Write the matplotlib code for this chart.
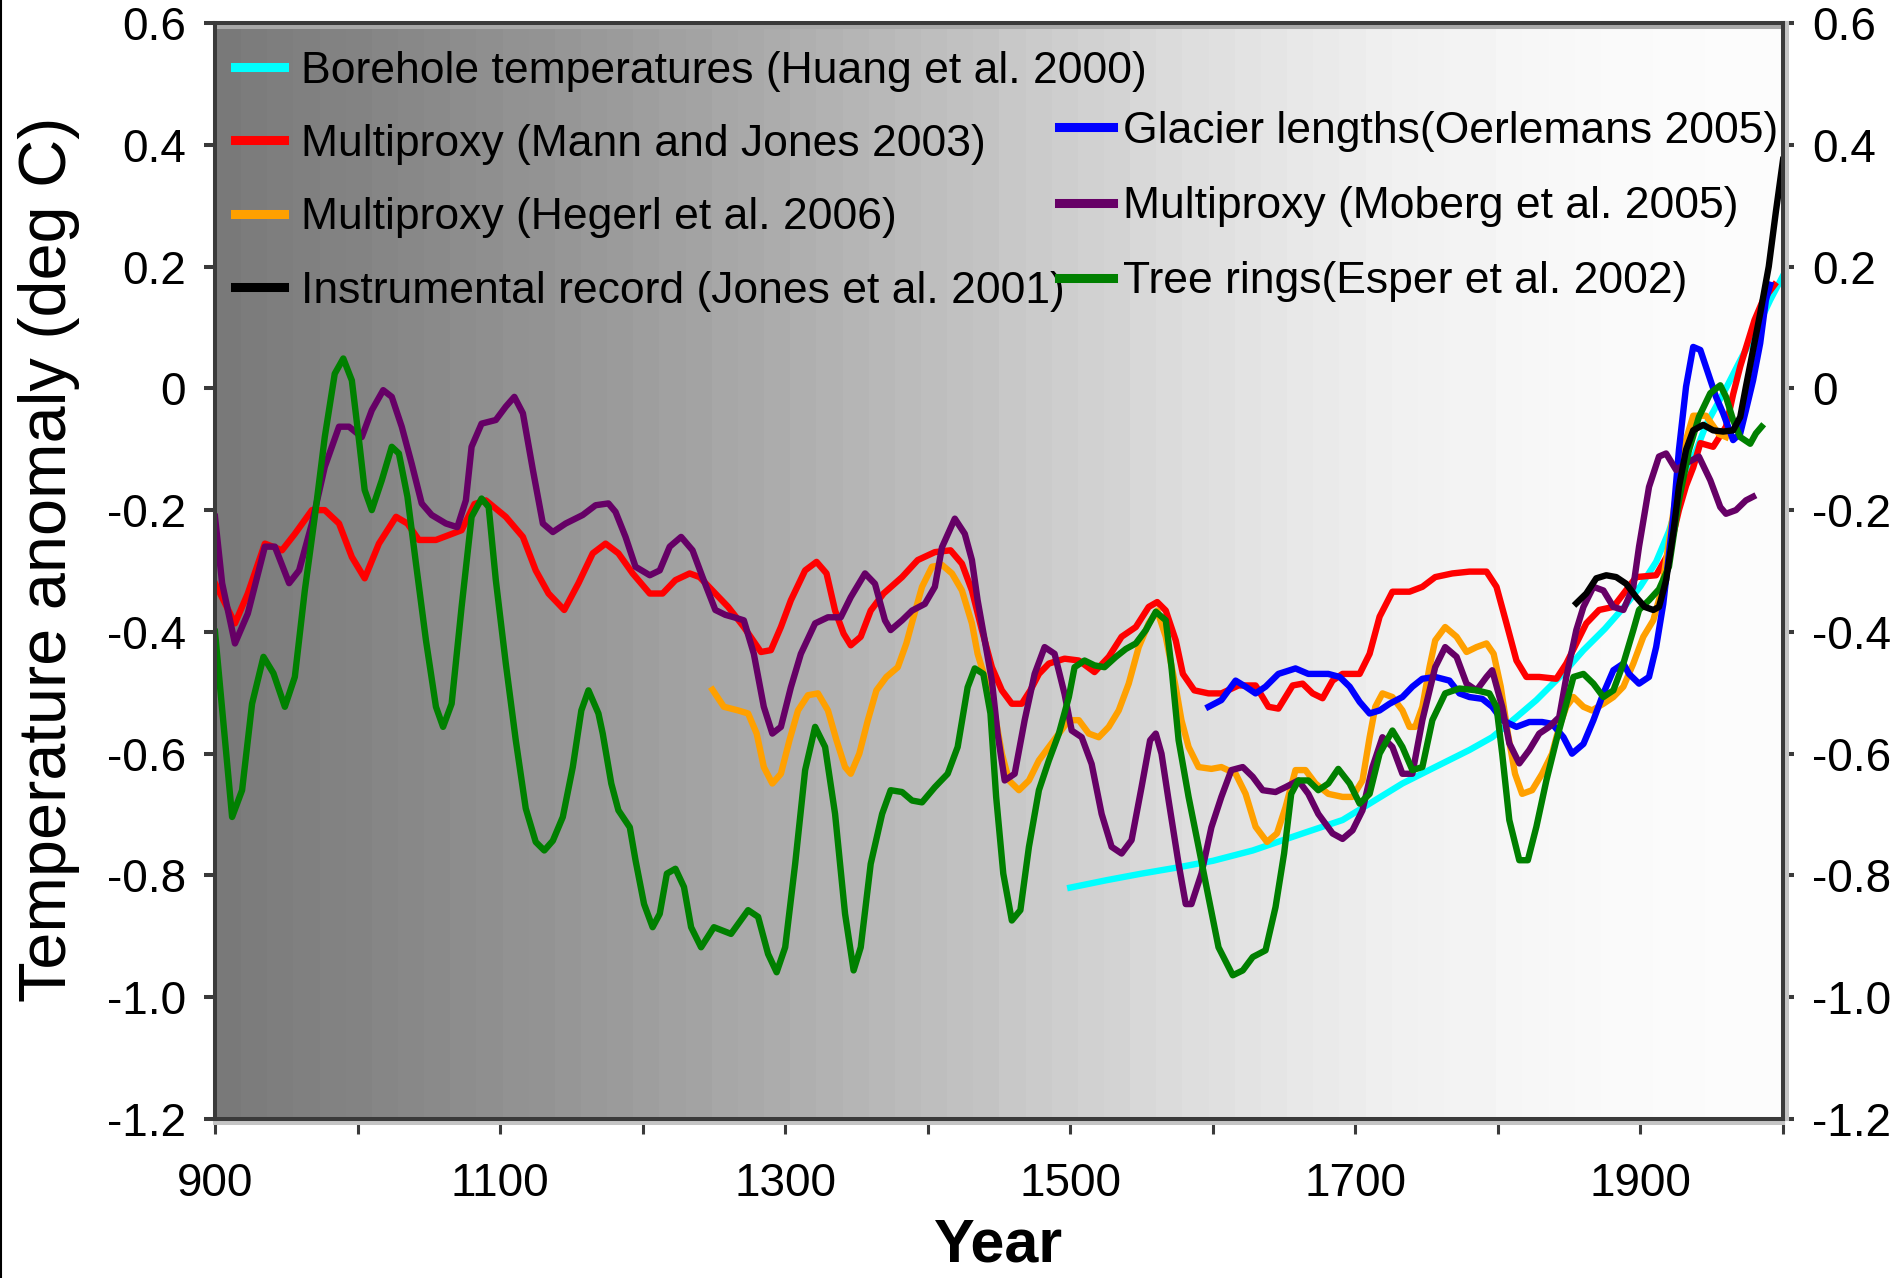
import numpy as np
import matplotlib
matplotlib.use('Agg')
import matplotlib.pyplot as plt
from matplotlib.lines import Line2D
from matplotlib.transforms import offset_copy

plt.rcParams['font.family'] = ['Liberation Sans', 'DejaVu Sans']

# Borehole temperatures (Huang et al. 2000)
borehole_years = [1500, 1525, 1550, 1575, 1600, 1628, 1663, 1691, 1710, 1733, 1756, 1780, 1796, 1813,
                  1827, 1845, 1860, 1875, 1890, 1900, 1911, 1920, 1932, 1946, 1960, 1970, 1980, 1991, 2000]
borehole_vals = [-0.82, -0.808, -0.797, -0.787, -0.776, -0.759, -0.731, -0.709, -0.682, -0.649, -0.622, -0.594,
                 -0.573, -0.54, -0.512, -0.47, -0.43, -0.395, -0.355, -0.325, -0.285, -0.235, -0.145, -0.06,
                 0.0, 0.046, 0.09, 0.145, 0.185]

# Multiproxy (Mann and Jones 2003)
mann_years = [900, 914, 923, 935, 947, 956, 968, 977, 987, 996, 1005, 1015, 1027, 1035, 1043, 1055, 1073, 1082,
              1090, 1104, 1116, 1125, 1134, 1145, 1155, 1165, 1174, 1183, 1193, 1205, 1214, 1223, 1233, 1240,
              1251, 1260, 1271, 1283, 1290, 1297, 1304, 1314, 1322, 1329, 1335, 1341, 1346, 1353, 1360, 1369,
              1382, 1393, 1405, 1416, 1424, 1431, 1438, 1445, 1452, 1459, 1466, 1472, 1478, 1485, 1496, 1506,
              1517, 1527, 1536, 1546, 1555, 1561, 1567, 1574, 1579, 1587, 1597, 1606, 1618, 1630, 1639, 1646,
              1656, 1663, 1670, 1677, 1684, 1691, 1703, 1710, 1717, 1726, 1738, 1747, 1756, 1768, 1780, 1792,
              1799, 1806, 1813, 1820, 1829, 1841, 1848, 1855, 1862, 1871, 1881, 1897, 1911, 1920, 1927, 1932,
              1937, 1942, 1951, 1960, 1965, 1970, 1975, 1980, 1986, 1994]
mann_vals = [-0.32, -0.386, -0.337, -0.255, -0.266, -0.239, -0.2, -0.2, -0.222, -0.277, -0.312, -0.255, -0.211,
             -0.222, -0.249, -0.249, -0.233, -0.19, -0.184, -0.211, -0.244, -0.299, -0.337, -0.364, -0.32,
             -0.271, -0.255, -0.271, -0.304, -0.337, -0.337, -0.315, -0.304, -0.31, -0.337, -0.359, -0.392,
             -0.433, -0.43, -0.392, -0.348, -0.299, -0.285, -0.304, -0.365, -0.403, -0.422, -0.408, -0.365,
             -0.337, -0.31, -0.282, -0.269, -0.266, -0.288, -0.332, -0.397, -0.458, -0.496, -0.518, -0.518,
             -0.496, -0.469, -0.452, -0.444, -0.447, -0.466, -0.441, -0.408, -0.392, -0.359, -0.351, -0.365,
             -0.414, -0.469, -0.496, -0.501, -0.501, -0.488, -0.488, -0.523, -0.526, -0.488, -0.485, -0.501,
             -0.509, -0.48, -0.469, -0.469, -0.436, -0.375, -0.334, -0.334, -0.326, -0.31, -0.304, -0.301,
             -0.301, -0.326, -0.386, -0.447, -0.474, -0.474, -0.477, -0.452, -0.419, -0.386, -0.364, -0.359,
             -0.31, -0.307, -0.27, -0.2, -0.16, -0.13, -0.09, -0.096, -0.063, -0.01, 0.036, 0.074, 0.112,
             0.145, 0.17]

# Multiproxy (Hegerl et al. 2006)
hegerl_years = [1249, 1257, 1267, 1274, 1280, 1285, 1291, 1297, 1303, 1309, 1316, 1323, 1330, 1336, 1342, 1346,
                1352, 1358, 1364, 1371, 1379, 1385, 1390, 1396, 1403, 1410, 1417, 1424, 1431, 1435, 1442, 1447,
                1452, 1457, 1464, 1471, 1478, 1485, 1492, 1499, 1506, 1513, 1520, 1527, 1534, 1541, 1548, 1555,
                1561, 1567, 1574, 1578, 1583, 1590, 1599, 1606, 1616, 1623, 1630, 1638, 1645, 1651, 1658, 1665,
                1672, 1681, 1691, 1698, 1705, 1710, 1714, 1719, 1726, 1733, 1738, 1742, 1747, 1752, 1756, 1763,
                1771, 1778, 1785, 1792, 1797, 1802, 1807, 1812, 1817, 1824, 1831, 1838, 1843, 1848, 1853, 1860,
                1866, 1874, 1881, 1888, 1895, 1902, 1909, 1915, 1922, 1930, 1937, 1946, 1955, 1960]
hegerl_vals = [-0.495, -0.523, -0.529, -0.534, -0.567, -0.622, -0.649, -0.633, -0.578, -0.529, -0.504, -0.501,
               -0.529, -0.578, -0.622, -0.633, -0.6, -0.545, -0.496, -0.474, -0.458, -0.419, -0.376, -0.326,
               -0.293, -0.29, -0.304, -0.332, -0.386, -0.436, -0.49, -0.534, -0.6, -0.644, -0.66, -0.644,
               -0.611, -0.589, -0.567, -0.545, -0.545, -0.567, -0.573, -0.556, -0.529, -0.485, -0.425, -0.386,
               -0.365, -0.408, -0.491, -0.545, -0.589, -0.622, -0.625, -0.622, -0.633, -0.666, -0.72, -0.745,
               -0.731, -0.688, -0.627, -0.627, -0.649, -0.666, -0.671, -0.671, -0.644, -0.573, -0.523, -0.501,
               -0.507, -0.529, -0.556, -0.556, -0.523, -0.458, -0.414, -0.392, -0.408, -0.433, -0.425, -0.419,
               -0.436, -0.49, -0.567, -0.633, -0.666, -0.66, -0.633, -0.6, -0.556, -0.523, -0.507, -0.523,
               -0.529, -0.518, -0.507, -0.49, -0.452, -0.408, -0.381, -0.33, -0.22, -0.1, -0.045, -0.045,
               -0.075, -0.08]

# Instrumental record (Jones et al. 2001)
instr_years = [1855, 1862, 1869, 1876, 1883, 1890, 1897, 1903, 1909, 1913, 1918, 1923, 1927, 1932, 1937, 1944,
               1951, 1958, 1965, 1970, 1974, 1979, 1984, 1990, 1995, 2000]
instr_vals = [-0.353, -0.337, -0.312, -0.307, -0.31, -0.321, -0.343, -0.359, -0.364, -0.359, -0.315, -0.238,
              -0.162, -0.101, -0.069, -0.06, -0.069, -0.071, -0.069, -0.047, 0.003, 0.063, 0.123, 0.2, 0.29,
              0.375]

# Glacier lengths (Oerlemans 2005)
glacier_years = [1597, 1606, 1616, 1623, 1630, 1637, 1646, 1658, 1667, 1681, 1689, 1696, 1703, 1710, 1717, 1724,
                 1733, 1740, 1747, 1756, 1766, 1773, 1780, 1789, 1796, 1803, 1813, 1822, 1831, 1838, 1846, 1852,
                 1860, 1867, 1874, 1881, 1888, 1892, 1899, 1906, 1911, 1916, 1923, 1927, 1932, 1937, 1942, 1946,
                 1953, 1958, 1965, 1970, 1974, 1979, 1984, 1988, 1991]
glacier_vals = [-0.523, -0.512, -0.48, -0.49, -0.501, -0.49, -0.469, -0.46, -0.469, -0.469, -0.474, -0.49,
                -0.515, -0.534, -0.529, -0.518, -0.507, -0.49, -0.477, -0.474, -0.48, -0.501, -0.507, -0.51,
                -0.523, -0.545, -0.556, -0.548, -0.548, -0.551, -0.573, -0.6, -0.584, -0.545, -0.501, -0.463,
                -0.452, -0.469, -0.485, -0.474, -0.425, -0.354, -0.211, -0.101, 0.003, 0.068, 0.063, 0.035,
                -0.014, -0.041, -0.085, -0.074, -0.036, 0.013, 0.074, 0.145, 0.17]

# Multiproxy (Moberg et al. 2005)
moberg_years = [900, 905, 914, 923, 935, 942, 952, 959, 968, 977, 987, 994, 1003, 1010, 1018, 1024, 1031, 1038,
                1045, 1052, 1062, 1070, 1076, 1080, 1087, 1097, 1104, 1110, 1116, 1123, 1130, 1137, 1146, 1158,
                1167, 1176, 1181, 1188, 1195, 1205, 1212, 1219, 1227, 1235, 1242, 1251, 1258, 1264, 1271, 1278,
                1285, 1291, 1297, 1304, 1311, 1321, 1330, 1339, 1346, 1356, 1363, 1370, 1374, 1382, 1389, 1398,
                1405, 1410, 1419, 1426, 1431, 1435, 1440, 1445, 1449, 1454, 1461, 1468, 1475, 1482, 1489, 1496,
                1501, 1508, 1515, 1522, 1529, 1536, 1543, 1550, 1556, 1560, 1564, 1569, 1576, 1581, 1585, 1592,
                1599, 1606, 1613, 1621, 1628, 1635, 1644, 1651, 1660, 1667, 1674, 1684, 1691, 1698, 1705, 1712,
                1719, 1726, 1733, 1740, 1747, 1756, 1763, 1771, 1778, 1785, 1792, 1796, 1803, 1808, 1815, 1822,
                1829, 1836, 1843, 1848, 1855, 1860, 1867, 1874, 1881, 1888, 1895, 1899, 1906, 1913, 1918, 1925,
                1932, 1941, 1949, 1956, 1960, 1967, 1974, 1979]
moberg_vals = [-0.211, -0.32, -0.419, -0.37, -0.26, -0.26, -0.32, -0.299, -0.222, -0.129, -0.063, -0.063, -0.08,
               -0.036, -0.003, -0.014, -0.063, -0.124, -0.189, -0.208, -0.222, -0.228, -0.184, -0.096, -0.058,
               -0.052, -0.03, -0.014, -0.041, -0.134, -0.222, -0.236, -0.222, -0.208, -0.192, -0.189, -0.203,
               -0.244, -0.293, -0.307, -0.299, -0.26, -0.244, -0.266, -0.31, -0.364, -0.372, -0.376, -0.381,
               -0.436, -0.523, -0.567, -0.556, -0.491, -0.436, -0.386, -0.376, -0.376, -0.343, -0.304, -0.321,
               -0.381, -0.397, -0.381, -0.365, -0.354, -0.326, -0.261, -0.214, -0.239, -0.282, -0.348, -0.414,
               -0.48, -0.567, -0.644, -0.633, -0.545, -0.469, -0.425, -0.436, -0.502, -0.562, -0.573, -0.617,
               -0.699, -0.753, -0.764, -0.742, -0.655, -0.578, -0.567, -0.6, -0.677, -0.781, -0.847, -0.847,
               -0.797, -0.721, -0.671, -0.627, -0.622, -0.638, -0.66, -0.663, -0.655, -0.644, -0.666, -0.699,
               -0.731, -0.74, -0.726, -0.693, -0.622, -0.573, -0.589, -0.633, -0.633, -0.545, -0.458, -0.425,
               -0.441, -0.485, -0.496, -0.474, -0.463, -0.523, -0.583, -0.616, -0.594, -0.567, -0.556, -0.54,
               -0.474, -0.397, -0.359, -0.326, -0.332, -0.359, -0.364, -0.326, -0.26, -0.162, -0.112, -0.107,
               -0.134, -0.123, -0.112, -0.151, -0.195, -0.206, -0.2, -0.184, -0.178]

# Tree rings (Esper et al. 2002)
esper_years = [900, 912, 919, 926, 934, 941, 949, 956, 963, 970, 977, 984, 990, 996, 1001, 1005, 1010, 1017,
               1024, 1029, 1035, 1041, 1048, 1055, 1060, 1066, 1073, 1080, 1087, 1092, 1097, 1104, 1111, 1118,
               1125, 1131, 1137, 1144, 1151, 1157, 1162, 1169, 1172, 1178, 1183, 1191, 1195, 1201, 1207, 1212,
               1217, 1223, 1229, 1234, 1241, 1250, 1262, 1274, 1281, 1288, 1294, 1300, 1307, 1314, 1321, 1328,
               1335, 1342, 1348, 1353, 1360, 1368, 1374, 1382, 1389, 1396, 1405, 1414, 1421, 1428, 1433, 1439,
               1444, 1448, 1453, 1459, 1465, 1471, 1478, 1485, 1492, 1499, 1503, 1510, 1517, 1524, 1532, 1539,
               1546, 1553, 1560, 1567, 1571, 1576, 1583, 1590, 1597, 1604, 1614, 1621, 1628, 1637, 1644, 1650,
               1655, 1660, 1667, 1674, 1681, 1688, 1696, 1703, 1710, 1717, 1726, 1733, 1740, 1747, 1754, 1763,
               1773, 1785, 1794, 1799, 1803, 1808, 1815, 1821, 1827, 1834, 1841, 1848, 1853, 1860, 1867, 1874,
               1881, 1888, 1895, 1899, 1906, 1913, 1920, 1927, 1934, 1941, 1949, 1956, 1960, 1965, 1970, 1977,
               1981, 1985]
esper_vals = [-0.4, -0.704, -0.66, -0.518, -0.441, -0.468, -0.523, -0.474, -0.332, -0.211, -0.08, 0.024, 0.049,
              0.013, -0.085, -0.167, -0.2, -0.151, -0.096, -0.107, -0.178, -0.288, -0.414, -0.523, -0.556,
              -0.518, -0.359, -0.211, -0.181, -0.195, -0.315, -0.452, -0.578, -0.69, -0.745, -0.759, -0.743,
              -0.704, -0.622, -0.529, -0.496, -0.534, -0.567, -0.649, -0.693, -0.721, -0.775, -0.847, -0.885,
              -0.863, -0.797, -0.789, -0.819, -0.885, -0.918, -0.885, -0.896, -0.857, -0.868, -0.929, -0.959,
              -0.918, -0.781, -0.627, -0.556, -0.589, -0.699, -0.863, -0.956, -0.918, -0.781, -0.699, -0.66,
              -0.663, -0.677, -0.68, -0.655, -0.633, -0.589, -0.491, -0.46, -0.469, -0.534, -0.671, -0.797,
              -0.874, -0.857, -0.753, -0.66, -0.611, -0.567, -0.507, -0.458, -0.447, -0.455, -0.458, -0.441,
              -0.428, -0.419, -0.397, -0.367, -0.381, -0.458, -0.578, -0.671, -0.753, -0.836, -0.918, -0.964,
              -0.956, -0.934, -0.923, -0.852, -0.764, -0.666, -0.644, -0.644, -0.66, -0.649, -0.625, -0.649,
              -0.682, -0.666, -0.6, -0.562, -0.589, -0.627, -0.622, -0.545, -0.501, -0.493, -0.496, -0.501,
              -0.523, -0.6, -0.709, -0.775, -0.775, -0.72, -0.644, -0.578, -0.518, -0.474, -0.469, -0.485,
              -0.507, -0.496, -0.452, -0.397, -0.364, -0.348, -0.33, -0.293, -0.184, -0.102, -0.047, -0.008,
              0.005, -0.014, -0.052, -0.08, -0.091, -0.074, -0.063]

xtick_vals = [900, 1000, 1100, 1200, 1300, 1400, 1500, 1600, 1700, 1800, 1900, 2000]
xtick_labels = ['900', '', '1100', '', '1300', '', '1500', '', '1700', '', '1900', '']
ytick_vals = [0.6, 0.4, 0.2, 0, -0.2, -0.4, -0.6, -0.8, -1.0, -1.2]
ytick_labels = ['0.6', '0.4', '0.2', '0', '-0.2', '-0.4', '-0.6', '-0.8', '-1.0', '-1.2']

# background shade, dark on the left to almost white on the right
shade_years = [900, 1030, 1171, 1311, 1452, 1592, 1733, 1874, 2000]
shade_gray = [122, 136, 154, 175, 198, 222, 240, 249, 252]

W, H = 1895, 1278
fig = plt.figure(figsize=(W / 100, H / 100), dpi=100)
ax = fig.add_axes([215 / W, 1 - 1119 / H, (1783 - 215) / W, (1119 - 23) / H])

cols = np.linspace(900, 2000, 60)
shade = np.interp(cols, shade_years, shade_gray) / 255.0
ax.imshow(shade[np.newaxis, :], extent=[900, 2000, -1.2, 0.6], aspect='auto', cmap='gray',
          vmin=0, vmax=1, interpolation='nearest', zorder=0)

lw = 4.6
l_bore, = ax.plot(borehole_years, borehole_vals, color='#00ffff', lw=lw, zorder=2)
l_mann, = ax.plot(mann_years, mann_vals, color='#ff0000', lw=lw, zorder=2)
l_heg, = ax.plot(hegerl_years, hegerl_vals, color='#ffa000', lw=lw, zorder=2)
l_glac, = ax.plot(glacier_years, glacier_vals, color='#0000ff', lw=lw, zorder=2)
l_mob, = ax.plot(moberg_years, moberg_vals, color='#660066', lw=lw, zorder=2)
l_esp, = ax.plot(esper_years, esper_vals, color='#008000', lw=lw, zorder=2)
l_inst, = ax.plot(instr_years, instr_vals, color='#000000', lw=lw, zorder=3)

ax.set_xlim(900, 2000)
ax.set_ylim(-1.2, 0.6)
ax.set_xticks(xtick_vals)
ax.set_xticklabels(xtick_labels)
ax.set_yticks(ytick_vals)
ax.set_yticklabels(ytick_labels)

spine_col = '#3a3a3a'
for s in ax.spines.values():
    s.set_color(spine_col)
    s.set_linewidth(2.9)
    s.set_zorder(4)

# light shadow next to the frame
ax.plot([0, 1], [0, 0], transform=offset_copy(ax.transAxes, fig=fig, x=0, y=-4, units='dots'),
        color='#c4c4c4', lw=2.9, clip_on=False, zorder=3)
ax.plot([1, 1], [0, 1], transform=offset_copy(ax.transAxes, fig=fig, x=4, y=0, units='dots'),
        color='#c4c4c4', lw=2.9, clip_on=False, zorder=3)
ax.plot([0, 1], [1, 1], transform=offset_copy(ax.transAxes, fig=fig, x=0, y=-4, units='dots'),
        color='#a8a8a8', lw=2.9, clip_on=False, zorder=3)

ax.tick_params(axis='y', direction='out', length=8, width=2.9, color=spine_col, labelsize=33, pad=13,
               left=True, right=True, labelleft=True, labelright=True)
ax.tick_params(axis='x', direction='out', length=11, width=2.2, color=spine_col, labelsize=33, pad=20)

fig.text(18 / W, 1 - 559 / H, 'Temperature anomaly (deg C)', rotation=90, ha='left', va='center',
         fontsize=48)
fig.text(999 / W, 1 - 1217 / H, 'Year', ha='center', va='top', fontsize=44, fontweight='bold')

leg1 = ax.legend([l_bore, l_mann, l_heg, l_inst],
                 ['Borehole temperatures (Huang et al. 2000)', 'Multiproxy (Mann and Jones 2003)',
                  'Multiproxy (Hegerl et al. 2006)', 'Instrumental record (Jones et al. 2001)'],
                 loc='upper left', bbox_to_anchor=((235 - 215) / 1568, (1119 - 50.5) / 1096),
                 frameon=False, fontsize=32, handlelength=1.11, handletextpad=0.37,
                 labelspacing=0.73, borderpad=0, borderaxespad=0)
for l in leg1.get_lines():
    l.set_linewidth(6.5)
ax.add_artist(leg1)

leg2 = ax.legend([l_glac, l_mob, l_esp],
                 ['Glacier lengths(Oerlemans 2005)', 'Multiproxy (Moberg et al. 2005)',
                  'Tree rings(Esper et al. 2002)'],
                 loc='upper left', bbox_to_anchor=((1059 - 215) / 1568, (1119 - 111) / 1096),
                 frameon=False, fontsize=32, handlelength=1.22, handletextpad=0.22,
                 labelspacing=0.77, borderpad=0, borderaxespad=0)
for l in leg2.get_lines():
    l.set_linewidth(6.5)

fig.add_artist(Line2D([0.5 / W, 0.5 / W], [0, 1], transform=fig.transFigure, color='black', lw=1.5))

fig.savefig('out.png', dpi=100, facecolor='white')
